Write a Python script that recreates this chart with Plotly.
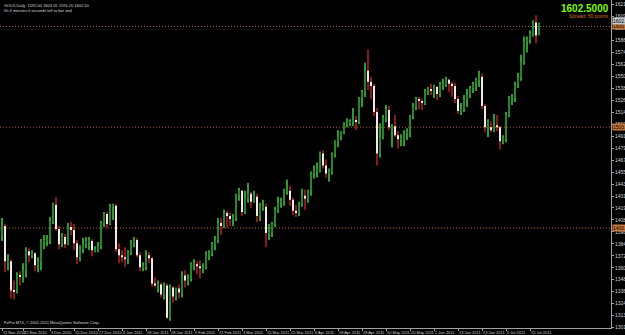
import plotly.graph_objects as go

# Daily bars (MT4 server dates) -------------------------------------------------
dates = ["11 Nov","12 Nov","15 Nov","16 Nov","17 Nov","18 Nov","19 Nov","22 Nov","23 Nov",
         "24 Nov","25 Nov","26 Nov","29 Nov","30 Nov","1 Dec","2 Dec","3 Dec","6 Dec","7 Dec","8 Dec",
         "9 Dec","10 Dec","13 Dec","14 Dec","15 Dec","16 Dec","17 Dec","20 Dec","21 Dec","22 Dec",
         "23 Dec","24 Dec","27 Dec","28 Dec","29 Dec","30 Dec","31 Dec","3 Jan","4 Jan","5 Jan",
         "6 Jan","7 Jan","10 Jan","11 Jan","12 Jan","13 Jan","14 Jan","17 Jan","18 Jan","19 Jan",
         "20 Jan","21 Jan","24 Jan","25 Jan","26 Jan","27 Jan","28 Jan","31 Jan","1 Feb","2 Feb",
         "3 Feb","4 Feb","7 Feb","8 Feb","9 Feb","10 Feb","11 Feb","14 Feb","15 Feb","16 Feb",
         "17 Feb","18 Feb","21 Feb","22 Feb","23 Feb","24 Feb","25 Feb","28 Feb","1 Mar","2 Mar",
         "3 Mar","4 Mar","7 Mar","8 Mar","9 Mar","10 Mar","11 Mar","14 Mar","15 Mar","16 Mar",
         "17 Mar","18 Mar","21 Mar","22 Mar","23 Mar","24 Mar","25 Mar","28 Mar","29 Mar","30 Mar",
         "31 Mar","1 Apr","4 Apr","5 Apr","6 Apr","7 Apr","8 Apr","11 Apr","12 Apr","13 Apr",
         "14 Apr","15 Apr","18 Apr","19 Apr","20 Apr","21 Apr","22 Apr","25 Apr","26 Apr","27 Apr",
         "28 Apr","29 Apr","2 May","3 May","4 May","5 May","6 May","9 May","10 May","11 May",
         "12 May","13 May","16 May","17 May","18 May","19 May","20 May","23 May","24 May","25 May",
         "26 May","27 May","30 May","31 May","1 Jun","2 Jun","3 Jun","6 Jun","7 Jun","8 Jun",
         "9 Jun","10 Jun","13 Jun","14 Jun","15 Jun","16 Jun","17 Jun","20 Jun","21 Jun","22 Jun",
         "23 Jun","24 Jun","27 Jun","28 Jun","29 Jun","30 Jun","1 Jul","4 Jul","5 Jul","6 Jul",
         "7 Jul","8 Jul","11 Jul","12 Jul","13 Jul","14 Jul","15 Jul","18 Jul","19 Jul","20 Jul"]

open_ = [1393,1402,1366,1367,1338,1337,1353,1352,1358,
         1377,1373,1375,1363,1366,1386,1388,1389,1406,1423,1399,
         1384,1391,1384,1401,1398,1385,1371,1379,1384,1387,
         1387,1378,1379,1382,1405,1414,1404,1421,1422,1379,
         1373,1371,1369,1376,1385,1388,1373,1361,1362,1373,
         1370,1345,1343,1344,1334,1343,1311,1341,1332,1340,
         1336,1353,1348,1350,1364,1364,1362,1360,1361,1374,
         1375,1384,1388,1405,1402,1415,1412,1409,1410,1433,
         1437,1416,1429,1434,1426,1431,1412,1420,1421,1395,
         1395,1404,1418,1425,1426,1437,1437,1428,1417,1415,
         1423,1432,1429,1437,1454,1457,1457,1474,1462,1454,
         1456,1473,1486,1491,1495,1503,1504,1505,1507,1506,
         1529,1535,1556,1545,1541,1515,1474,1490,1509,1517,
         1500,1501,1492,1488,1488,1494,1496,1511,1520,1528,
         1526,1524,1536,1537,1536,1540,1533,1542,1542,1547,
         1543,1541,1528,1516,1518,1528,1532,1539,1542,1547,
         1550,1521,1500,1500,1497,1502,1500,1486,1489,1512,
         1529,1529,1542,1549,1565,1585,1587,1593,1604,1592.0]
high = [1410,1404,1374,1369,1348,1356,1357,1365,1381,
        1380,1378,1376,1371,1389,1393,1393,1411,1425,1431,1402,
        1395,1394,1405,1406,1404,1388,1383,1390,1391,1391,
        1389,1382,1386,1407,1416,1416,1424,1424,1424,1385,
        1378,1381,1378,1388,1391,1390,1376,1366,1378,1376,
        1371,1351,1348,1346,1346,1345,1344,1342,1341,1344,
        1357,1358,1354,1366,1369,1367,1368,1365,1377,1378,
        1386,1392,1410,1410,1418,1417,1415,1414,1434,1440,
        1438,1437,1445,1436,1437,1434,1425,1428,1424,1404,
        1406,1421,1431,1430,1439,1448,1442,1430,1423,1426,
        1439,1438,1438,1456,1462,1465,1476,1477,1468,1459,
        1475,1487,1497,1496,1505,1509,1508,1519,1511,1530,
        1537,1564,1577,1550,1543,1519,1504,1512,1522,1521,
        1503,1512,1496,1493,1497,1499,1512,1524,1530,1530,
        1528,1538,1540,1543,1542,1541,1545,1548,1550,1548,
        1545,1544,1531,1524,1532,1538,1541,1545,1549,1556,
        1553,1523,1508,1506,1513,1512,1501,1492,1515,1531,
        1533,1545,1554,1572,1590,1590,1596,1606,1611,1603.55]
low = [1387,1356,1358,1330,1329,1335,1343,1346,1351,
       1366,1370,1357,1356,1358,1379,1382,1384,1404,1397,1379,
       1381,1380,1383,1393,1378,1364,1367,1375,1380,1378,
       1372,1376,1376,1379,1401,1400,1403,1408,1376,1365,
       1366,1361,1364,1373,1381,1371,1357,1357,1358,1365,
       1342,1341,1336,1331,1329,1310,1308,1326,1328,1330,
       1331,1341,1343,1347,1358,1354,1350,1355,1359,1368,
       1372,1378,1385,1393,1400,1400,1402,1402,1407,1427,
       1412,1414,1425,1420,1425,1406,1407,1417,1381,1388,
       1391,1401,1415,1420,1422,1433,1422,1413,1411,1412,
       1421,1418,1425,1432,1449,1450,1455,1459,1450,1446,
       1453,1470,1480,1487,1493,1500,1501,1501,1497,1503,
       1520,1530,1537,1528,1511,1462,1470,1488,1505,1497,
       1480,1490,1479,1481,1481,1487,1490,1508,1517,1518,
       1517,1522,1532,1532,1529,1527,1530,1537,1540,1535,
       1530,1524,1513,1512,1515,1520,1529,1534,1536,1540,
       1518,1495,1490,1495,1495,1496,1478,1483,1485,1510,
       1522,1525,1539,1546,1562,1574,1583,1590,1583,1591.20]
close = [1402,1367,1367,1338,1337,1353,1352,1358,1377,
         1373,1375,1363,1366,1386,1388,1389,1406,1423,1399,1384,
         1391,1384,1401,1398,1385,1371,1379,1384,1387,1387,
         1378,1379,1382,1405,1414,1404,1421,1422,1379,1373,
         1371,1369,1376,1385,1388,1373,1361,1362,1373,1370,
         1345,1343,1344,1334,1343,1311,1341,1332,1340,1336,
         1353,1348,1350,1364,1364,1362,1360,1361,1374,1375,
         1384,1388,1405,1402,1415,1412,1409,1410,1433,1437,
         1416,1429,1434,1426,1431,1412,1420,1421,1395,1395,
         1404,1418,1425,1426,1437,1437,1428,1417,1415,1423,
         1432,1429,1437,1454,1457,1457,1474,1462,1454,1456,
         1473,1486,1491,1495,1503,1504,1505,1507,1506,1529,
         1535,1556,1545,1541,1515,1474,1490,1509,1517,1500,
         1501,1492,1488,1488,1494,1496,1511,1520,1528,1526,
         1524,1536,1537,1536,1540,1533,1542,1542,1547,1543,
         1541,1528,1516,1518,1528,1532,1539,1542,1547,1550,
         1521,1500,1500,1497,1502,1500,1486,1489,1512,1529,
         1529,1542,1549,1565,1585,1587,1593,1604,1591,1602.50]

date_ticks = ["11 Nov 2010","22 Nov 2010","3 Dec 2010","15 Dec 2010","27 Dec 2010","6 Jan 2011",
              "18 Jan 2011","28 Jan 2011","9 Feb 2011","21 Feb 2011","3 Mar 2011","15 Mar 2011",
              "25 Mar 2011","6 Apr 2011","18 Apr 2011","28 Apr 2011","10 May 2011","20 May 2011",
              "1 Jun 2011","13 Jun 2011","23 Jun 2011","5 Jul 2011","15 Jul 2011"]
price_ticks = [1301.20,1313.10,1324.90,1336.80,1348.70,1360.50,1372.40,1384.30,1396.10,1408.00,
               1419.90,1431.70,1443.60,1455.50,1467.30,1479.20,1491.10,1502.90,1514.80,1526.70,
               1538.50,1550.40,1562.30,1574.10,1586.00,1597.90,1609.70,1621.60]
levels = [1600.00, 1500.00, 1400.00]
bid = 1602.50
spread_points = 50

x = list(range(len(close)))
tick_pos = [dates.index(t.rsplit(" ", 1)[0]) for t in date_ticks]

bull = [i for i in x if close[i] >= open_[i]]
bear = [i for i in x if close[i] < open_[i]]

def candle_bars(idx, wick_col, body_col):
    wick = go.Bar(x=idx, base=[low[i] for i in idx], y=[high[i] - low[i] for i in idx],
                  width=0.36, marker=dict(color=wick_col, line=dict(width=0)),
                  hoverinfo="skip", showlegend=False)
    body = go.Bar(x=idx, base=[min(open_[i], close[i]) for i in idx],
                  y=[max(abs(open_[i] - close[i]), 0.6) for i in idx],
                  width=0.62, marker=dict(color=body_col, line=dict(width=0)),
                  hoverinfo="skip", showlegend=False)
    return [wick, body]

fig = go.Figure()
for tr in candle_bars(bear, "#8a1a1a", "#f6e6e6") + candle_bars(bull, "#2c9c2c", "#24862a"):
    fig.add_trace(tr)

shapes = []
for lv in levels:
    shapes.append(dict(type="line", xref="paper", x0=0, x1=1, yref="y", y0=lv, y1=lv,
                       line=dict(color="#a8622a", width=1, dash="1px,2px"), layer="below"))

F = "Liberation Sans"
ann = []
for lv in levels:
    ann.append(dict(xref="paper", x=1, xanchor="left", xshift=1, yref="y", y=lv,
                    text="%.2f" % lv, showarrow=False, bgcolor="#c8783a",
                    font=dict(size=5, color="#000000", family=F), borderpad=0))
ann.append(dict(xref="paper", x=1, xanchor="left", xshift=1, yref="y", y=bid, yshift=3,
                text="%.2f" % bid, showarrow=False, bgcolor="#c8c8c8",
                font=dict(size=5, color="#000000", family=F), borderpad=0))
ann.append(dict(xref="paper", yref="paper", x=1, y=1, xanchor="right", yanchor="top",
                xshift=0, yshift=-1, text="<b>%.4f</b>" % bid, showarrow=False,
                font=dict(size=10, color="#7CFC00", family=F)))
ann.append(dict(xref="paper", yref="paper", x=1, y=1, xanchor="right", yanchor="top",
                xshift=0, yshift=-11, text="Spread: %d points" % spread_points, showarrow=False,
                font=dict(size=5, color="#d2691e", family=F)))
ann.append(dict(xref="paper", yref="paper", x=0, y=1, xanchor="left", yanchor="top",
                xshift=2, yshift=-1,
                text="GOLD,Daily  %.2f %.2f %.2f %.2f" % (open_[-1], high[-1], low[-1], close[-1]),
                showarrow=False, font=dict(size=4, color="#d8d8d8", family=F)))
ann.append(dict(xref="paper", yref="paper", x=0, y=1, xanchor="left", yanchor="top",
                xshift=2, yshift=-6, text="5h 4 minutes 0 seconds left to bar end",
                showarrow=False, font=dict(size=4, color="#d8d8d8", family=F)))
ann.append(dict(xref="paper", yref="paper", x=0, y=0, xanchor="left", yanchor="bottom",
                xshift=2, yshift=1, text="FxPro MT4, \u00a9 2001-2011 MetaQuotes Software Corp.",
                showarrow=False, font=dict(size=4, color="#d8d8d8", family=F)))

fig.update_layout(
    width=625, height=335,
    margin=dict(l=0, r=14, t=0, b=7),
    paper_bgcolor="#000000", plot_bgcolor="#000000",
    shapes=shapes, annotations=ann, barmode="overlay",
    xaxis=dict(range=[-0.67, 203.0], showgrid=False,
               zeroline=False, tickmode="array", tickvals=tick_pos, ticktext=date_ticks,
               tickangle=0, automargin=False,
               ticks="outside", ticklen=2, tickcolor="#a0a0a0",
               tickfont=dict(size=4, color="#d0d0d0", family=F),
               ticklabelposition="outside right", showline=True, linecolor="#a0a0a0", linewidth=1,
               fixedrange=True),
    yaxis=dict(range=[1300.8, 1626.2], side="right", showgrid=False, zeroline=False,
               automargin=False,
               tickmode="array", tickvals=price_ticks, ticktext=["%.2f" % v for v in price_ticks],
               ticks="outside", ticklen=2, tickcolor="#a0a0a0",
               tickfont=dict(size=5, color="#d0d0d0", family=F),
               showline=True, linecolor="#a0a0a0", linewidth=1, fixedrange=True),
)

fig.write_html("out.html")
